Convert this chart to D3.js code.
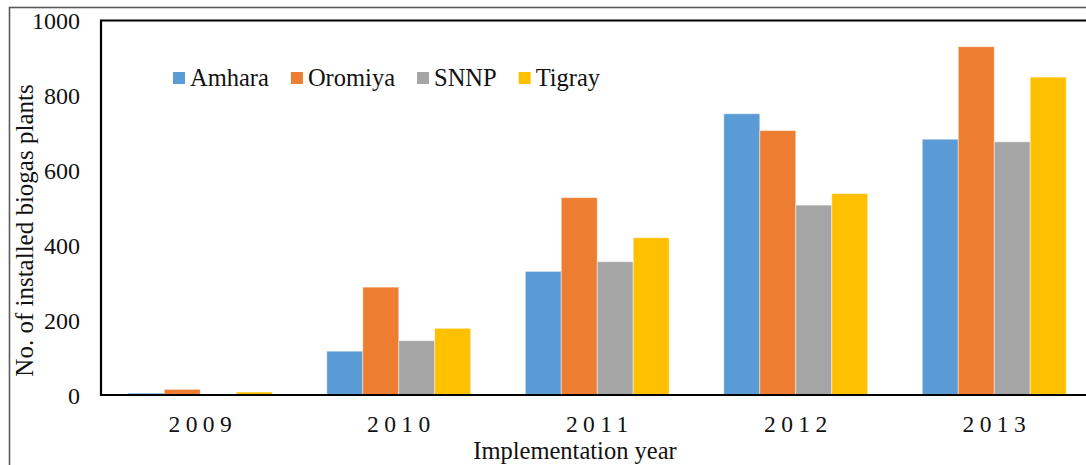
<!DOCTYPE html>
<html>
<head>
<meta charset="utf-8">
<script src="https://cdn.jsdelivr.net/npm/d3@7"></script>
<style>
  body { margin: 0; background: #fff; }
  svg { display: block; font-family: "Liberation Serif", "Times New Roman", serif; }
</style>
</head>
<body>
<div class="chart"></div>
<script>
const w = 1086;
const h = 465;

// data
const years = ["2009", "2010", "2011", "2012", "2013"];
const regions = ["Amhara", "Oromiya", "SNNP", "Tigray"];
const amhara = [5, 117, 330, 751, 683];
const oromiya = [15, 288, 527, 706, 930];
const snnp = [0, 145, 356, 507, 676];
const tigray = [8, 178, 420, 538, 849];
const yTicks = [0, 200, 400, 600, 800, 1000];

const series = { Amhara: amhara, Oromiya: oromiya, SNNP: snnp, Tigray: tigray };
const rows = years.map((yr, i) => ({
  year: yr,
  values: regions.map((r) => ({ region: r, value: series[r][i] })),
}));

const plotLeft = 101;
const plotTop = 20.5;
const plotBottom = 395;
const plotRight = 1093.5;

const svg = d3
  .select(".chart")
  .append("svg")
  .attr("width", w)
  .attr("height", h)
  .attr("font-family", '"Liberation Serif", "Times New Roman", serif');

// outer frame (cut off at right and bottom)
svg
  .append("rect")
  .attr("x", 9.5)
  .attr("y", 7.5)
  .attr("width", 1200)
  .attr("height", 600)
  .attr("fill", "#fff")
  .attr("stroke", "#5a5a5a")
  .attr("stroke-width", 1.6);

const x0 = d3.scaleBand().domain(years).range([plotLeft, plotRight]);
const x1 = d3
  .scaleBand()
  .domain(regions)
  .range([27.3, x0.bandwidth() - 27.3]);
const y = d3.scaleLinear().domain([0, 1000]).range([plotBottom, plotTop]);
const color = d3
  .scaleOrdinal()
  .domain(regions)
  .range(["#5B9BD5", "#ED7D31", "#A5A5A5", "#FFC000"]);

// bars
const groups = svg
  .selectAll(".year")
  .data(rows)
  .enter()
  .append("g")
  .attr("class", "year")
  .attr("transform", (d) => `translate(${x0(d.year)},0)`);

groups
  .selectAll("rect")
  .data((d) => d.values)
  .enter()
  .append("rect")
  .attr("x", (d) => x1(d.region))
  .attr("y", (d) => y(d.value))
  .attr("width", x1.bandwidth())
  .attr("height", (d) => y(0) - y(d.value))
  .attr("fill", (d) => color(d.region))
  .attr("stroke", "#fff")
  .attr("stroke-opacity", 0.45)
  .attr("stroke-width", 1);

// plot frame
svg
  .append("path")
  .attr("d", `M${w + 10},${plotTop}H${plotLeft}V${plotBottom}H${w + 10}`)
  .attr("fill", "none")
  .attr("stroke", "#000")
  .attr("stroke-width", 2.2);

// y axis labels
svg
  .append("g")
  .selectAll("text")
  .data(yTicks)
  .enter()
  .append("text")
  .attr("x", 80)
  .attr("y", (d) => y(d))
  .attr("dy", "0.36em")
  .attr("text-anchor", "end")
  .attr("font-size", "24px")
  .attr("fill", "#111")
  .text((d) => d);

// x axis labels
svg
  .append("g")
  .selectAll("text")
  .data(years)
  .enter()
  .append("text")
  .attr("x", (d) => x0(d) + x0.bandwidth() / 2 + 2.6)
  .attr("y", 432)
  .attr("text-anchor", "middle")
  .attr("font-size", "23.5px")
  .attr("letter-spacing", "5.4px")
  .attr("fill", "#111")
  .text((d) => d);

// axis titles
svg
  .append("text")
  .attr("x", 575)
  .attr("y", 459)
  .attr("text-anchor", "middle")
  .attr("font-size", "24.5px")
  .attr("fill", "#111")
  .text("Implementation year");

svg
  .append("text")
  .attr("transform", "translate(33,230.5) rotate(-90)")
  .attr("text-anchor", "middle")
  .attr("font-size", "25px")
  .attr("fill", "#111")
  .text("No. of installed biogas plants");

// legend
const legend = svg.append("g").attr("id", "legend");
let lx = 173;
regions.forEach((r) => {
  legend
    .append("rect")
    .attr("x", lx)
    .attr("y", 72)
    .attr("width", 12)
    .attr("height", 12)
    .attr("fill", color(r));
  const t = legend
    .append("text")
    .attr("x", lx + 17)
    .attr("y", 86)
    .attr("font-size", "24.5px")
    .attr("fill", "#111")
    .text(r);
  lx += 17 + t.node().getComputedTextLength() + 22;
});
</script>
</body>
</html>
